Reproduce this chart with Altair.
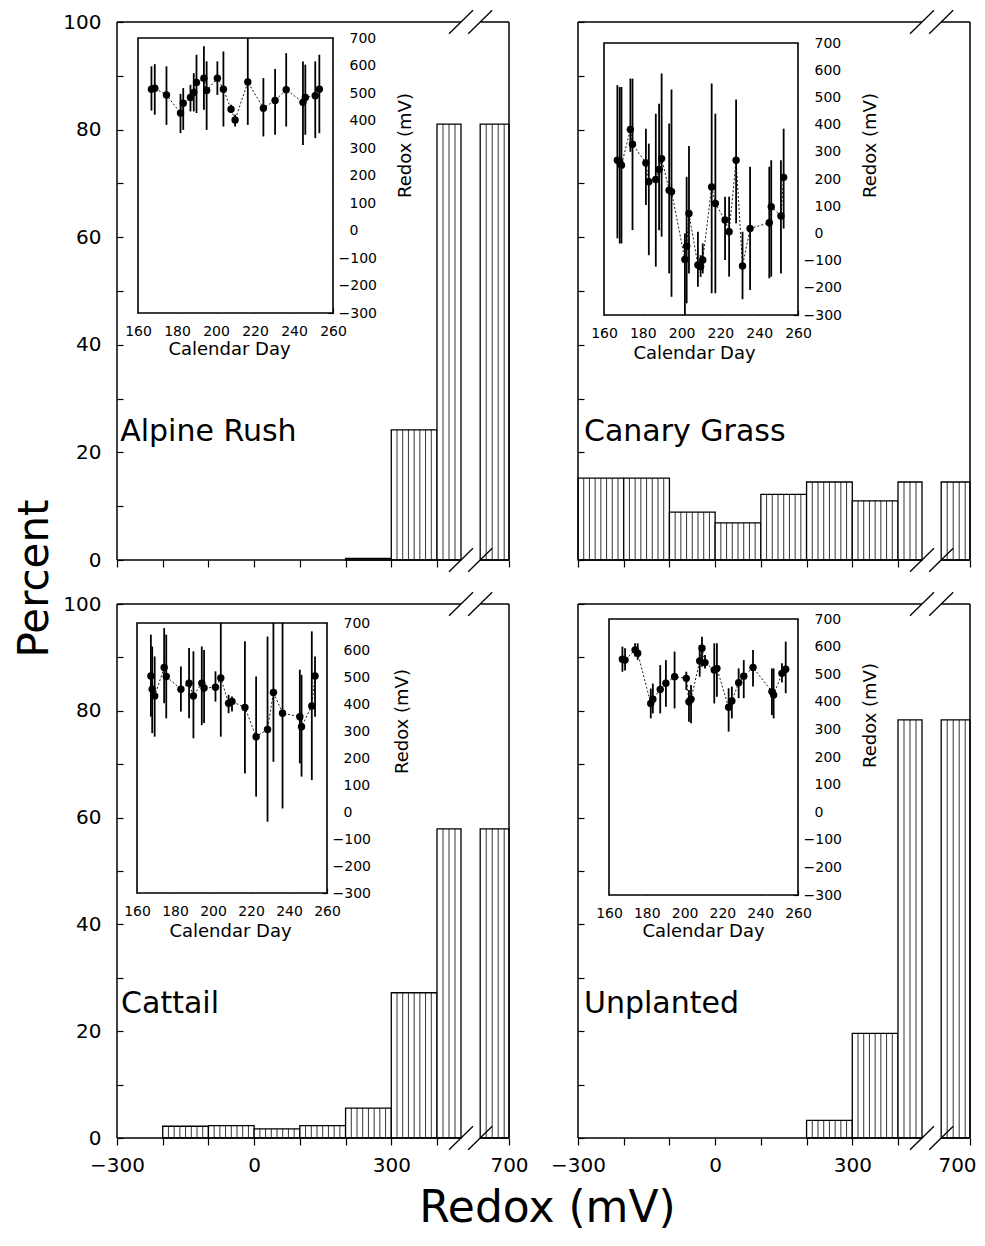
import altair as alt
import pandas as pd
import numpy as np

# ---------------- data ----------------
bin_lo = [-300, -200, -100, 0, 100, 200, 300, 400]
bin_hi = [-200, -100, 0, 100, 200, 300, 400, 700]

alpine_pct = [0, 0, 0, 0, 0, 0.3, 24.2, 81.0]
canary_pct = [15.2, 15.2, 8.9, 6.9, 12.2, 14.5, 11.0, 14.5]
cattail_pct = [0, 2.2, 2.3, 1.7, 2.3, 5.6, 27.2, 57.9]
unplanted_pct = [0, 0, 0, 0, 0, 3.3, 19.6, 78.3]

x_ticks = [-300, -200, -100, 0, 100, 200, 300, 400, 700]
x_labelled = [-300, 0, 300, 700]
y_ticks = [0, 10, 20, 30, 40, 50, 60, 70, 80, 90, 100]
day_ticks = [160, 180, 200, 220, 240, 260]
redox_ticks = [-300, -200, -100, 0, 100, 200, 300, 400, 500, 600, 700]

alpine_day = [166.9, 168.6, 174.6, 181.8, 183.2, 186.9, 188.6, 190.0, 193.8, 195.2, 200.7, 203.8,
              207.7, 209.8, 216.3, 224.3, 230.3, 236.0, 244.6, 245.8, 250.9, 253.0]
alpine_mean = [514, 517, 493, 427, 463, 484, 502, 538, 554, 509, 554, 514, 441, 402, 540, 445, 473,
               512, 466, 484, 490, 514]
alpine_low = [436, 421, 384, 354, 366, 433, 433, 427, 439, 366, 493, 378, 427, 378, 384, 342, 348,
              378, 311, 348, 336, 354]
alpine_high = [597, 605, 597, 497, 518, 530, 572, 639, 670, 615, 615, 651, 457, 421, 700, 554, 587,
               645, 615, 603, 615, 639]

canary_day = [166.9, 168.1, 169.0, 173.6, 174.7, 181.6, 183.1, 186.7, 188.4, 189.7, 193.6, 194.8,
              201.7, 202.6, 203.8, 208.4, 209.8, 210.9, 215.5, 217.4, 222.4, 224.5, 228.1, 231.4,
              235.3, 245.2, 246.2, 251.2, 252.6]
canary_mean = [269, 263, 251, 382, 328, 259, 190, 198, 235, 275, 159, 153, -96, -47, 73, -116, -122,
               -98, 171, 110, 49, 6, 269, -120, 18, 39, 98, 64, 206]
canary_low = [-18, -37, -37, 300, 12, 104, -80, -122, 12, -12, -147, -233, -300, -257, -147, -196,
              -160, -147, -220, -220, -98, -159, 37, -242, -208, -165, -159, -147, 18]
canary_high = [545, 538, 538, 569, 569, 385, 330, 440, 477, 588, 404, 529, 0, 208, 321, 6, -80, -37,
               551, 440, 135, 135, 492, 6, 245, 245, 269, 269, 385]

cattail_day = [167.3, 168.0, 169.3, 174.3, 175.4, 183.1, 187.4, 189.7, 194.1, 195.3, 201.3, 204.1,
               208.2, 210.0, 216.8, 222.7, 228.7, 231.8, 236.6, 245.7, 246.6, 252.0, 253.7]
cattail_mean = [504, 455, 430, 535, 502, 455, 477, 430, 477, 459, 462, 496, 403, 409, 387, 279, 306,
                443, 366, 353, 316, 393, 504]
cattail_low = [353, 292, 279, 403, 347, 372, 347, 273, 322, 330, 409, 279, 366, 372, 143, 57, -36,
               186, 13, 180, 131, 118, 353]
cattail_high = [657, 613, 576, 681, 657, 539, 607, 595, 613, 600, 521, 700, 434, 428, 632, 502, 650,
                700, 700, 527, 508, 669, 576]

unpl_day = [167.1, 168.5, 173.8, 175.2, 182.1, 183.2, 187.1, 190.1, 194.7, 200.9, 202.3, 203.4,
            208.0, 209.2, 210.8, 215.7, 217.1, 223.3, 225.0, 228.6, 231.3, 236.2, 246.2, 247.1,
            251.5, 253.5]
unpl_mean = [554, 551, 588, 576, 394, 409, 445, 467, 491, 485, 400, 409, 548, 594, 542, 515, 521,
             380, 403, 469, 493, 524, 437, 425, 503, 518]
unpl_low = [509, 513, 564, 552, 340, 358, 358, 382, 376, 443, 328, 322, 491, 527, 521, 394, 418,
            292, 340, 413, 413, 455, 352, 340, 470, 431]
unpl_high = [600, 594, 612, 612, 448, 466, 533, 551, 582, 509, 443, 461, 606, 636, 570, 612, 612,
             449, 455, 521, 551, 588, 521, 521, 540, 618]

# ---------------- layout constants ----------------
W, H = 853, 1116
FONT = "DejaVu Sans"
BREAK_LO, BREAK_HI = 500, 580


def panel(name, pct, day, mean, low, high, g):
    x0, ytop, ybot = g["x0"], g["ytop"], g["ybot"]
    xs = alt.Scale(domain=[-300, 400, 700], range=[x0, x0 + 320, x0 + 392], nice=False, zero=False)
    ys = alt.Scale(domain=[0, 100], range=[ybot, ytop], nice=False, zero=False)

    rows, hatch = [], []
    for lo, hi, p in zip(bin_lo, bin_hi, pct):
        if p <= 0:
            continue
        if hi > BREAK_LO:
            segs = [(lo, BREAK_LO, 25.0), (BREAK_HI, hi, 25.0)]
        else:
            segs = [(lo, hi, 12.5)]
        for a, b, step in segs:
            rows.append({"lo": a, "hi": b, "pct": p, "base": 0})
            for hx in np.arange(a + step, b - 1e-6, step):
                hatch.append({"hx": float(hx), "pct": p, "base": 0})

    xlab_expr = " || ".join(f"datum.value == {v}" for v in x_labelled)
    xaxis_kw = dict(orient="bottom", offset=ybot - H, values=x_ticks, tickSize=7, domain=False,
                    labelFontSize=20, labelPadding=10, labels=g["xlabels"],
                    labelExpr=f"({xlab_expr}) ? datum.label : ''")
    if g.get("last_shift"):
        xaxis_kw["labelOffset"] = {"condition": {"test": "datum.value == 700", "value": g["last_shift"]},
                                   "value": 0}
    if g.get("xtitle"):
        xaxis_kw.update(title="Redox (mV)", titleFontSize=44, titleX=430, titleY=70,
                        titleAlign="center", titleBaseline="middle")
    else:
        xaxis_kw.update(title=None)
    yaxis_kw = dict(orient="left", offset=-(x0 + 6), values=y_ticks, tickSize=6, domain=False,
                    labelFontSize=20, labelPadding=16, labels=g["ylabels"],
                    labelExpr="datum.value % 20 == 0 ? datum.label : ''")
    if g.get("ytitle"):
        yaxis_kw.update(title="Percent", titleFontSize=42, titleX=-89, titleY=556, titleAngle=270,
                        titleAlign="center", titleBaseline="middle")
    else:
        yaxis_kw.update(title=None)

    bars = alt.Chart(pd.DataFrame(rows)).mark_rect(fill="white", stroke="black", strokeWidth=1.3).encode(
        x=alt.X("lo:Q", scale=xs, axis=alt.Axis(**xaxis_kw)),
        x2="hi:Q",
        y=alt.Y("pct:Q", scale=ys, axis=alt.Axis(**yaxis_kw)),
        y2="base:Q",
    )
    hatch_c = alt.Chart(pd.DataFrame(hatch)).mark_rule(color="black", strokeWidth=0.8).encode(
        x=alt.X("hx:Q", scale=xs, axis=None),
        y=alt.Y("base:Q", scale=ys, axis=None),
        y2="pct:Q",
    )
    frame = pd.DataFrame({
        "fx": [-300, 700, -300, BREAK_HI, -300, BREAK_HI],
        "fx2": [-300, 700, BREAK_LO, 700, BREAK_LO, 700],
        "fy": [0, 0, 100, 100, 0, 0],
        "fy2": [100, 100, 100, 100, 0, 0],
    })
    frame_c = alt.Chart(frame).mark_rule(color="black", strokeWidth=1.5).encode(
        x=alt.X("fx:Q", scale=xs, axis=None), x2="fx2:Q",
        y=alt.Y("fy:Q", scale=ys, axis=None), y2="fy2:Q",
    )
    slash = pd.DataFrame({
        "sx": [BREAK_LO - 50, BREAK_HI - 50, BREAK_LO - 50, BREAK_HI - 50],
        "sx2": [BREAK_LO + 50, BREAK_HI + 50, BREAK_LO + 50, BREAK_HI + 50],
        "sy": [-2.2, -2.2, 97.8, 97.8],
        "sy2": [2.2, 2.2, 102.2, 102.2],
    })
    slash_c = alt.Chart(slash).mark_rule(color="black", strokeWidth=1.3).encode(
        x=alt.X("sx:Q", scale=xs, axis=None), x2="sx2:Q",
        y=alt.Y("sy:Q", scale=ys, axis=None), y2="sy2:Q",
    )
    label_c = alt.Chart(pd.DataFrame({"lx": [g["lx"]], "ly": [g["ly"]], "t": [name]})).mark_text(
        align="left", baseline="alphabetic", fontSize=30, font=FONT, color="black"
    ).encode(
        x=alt.X("lx:Q", scale=xs, axis=None),
        y=alt.Y("ly:Q", scale=ys, axis=None),
        text="t:N",
    )

    # ---- inset ----
    ixs = alt.Scale(domain=[160, 260], range=[g["ix0"], g["ix1"]], nice=False, zero=False)
    iys = alt.Scale(domain=[-300, 700], range=[g["iy1"], g["iy0"]], nice=False, zero=False)
    box = pd.DataFrame({"d0": [160], "d1": [260], "r0": [-300], "r1": [700]})
    box_c = alt.Chart(box).mark_rect(fill="white", stroke="black", strokeWidth=1.6).encode(
        x=alt.X("d0:Q", scale=ixs, axis=None), x2="d1:Q",
        y=alt.Y("r0:Q", scale=iys, axis=None), y2="r1:Q",
    )
    ins = pd.DataFrame({"day": day, "mean": mean, "low": low, "high": high})
    line_c = alt.Chart(ins).mark_line(color="black", strokeWidth=0.9, strokeDash=[2, 2]).encode(
        x=alt.X("day:Q", scale=ixs, axis=None),
        y=alt.Y("mean:Q", scale=iys, axis=None),
        order="day:Q",
    )
    err_c = alt.Chart(ins).mark_rule(color="black", strokeWidth=1.8).encode(
        x=alt.X("day:Q", scale=ixs, axis=None),
        y=alt.Y("low:Q", scale=iys, axis=None), y2="high:Q",
    )
    ixaxis = alt.Axis(orient="bottom", offset=g["iy1"] - 5 - H, values=day_ticks, tickSize=5,
                      domain=False, labelFontSize=14, labelPadding=11,
                      title="Calendar Day", titleFontSize=18, titleX=g["ixt"][0],
                      titleY=g["ixt"][1] - (g["iy1"] - 5), titleAlign="center", titleBaseline="middle")
    iyaxis = alt.Axis(orient="right", offset=g["ix1"] - 5 - W, values=redox_ticks, tickSize=5,
                      domain=False, labelFontSize=14, labelAlign="left",
                      labelPadding={"condition": {"test": "datum.value < 0", "value": 5}, "value": 16},
                      title="Redox (mV)", titleFontSize=18, titleAngle=270,
                      titleX=g["iyt"][0] - (g["ix1"] - 5), titleY=g["iyt"][1],
                      titleAlign="center", titleBaseline="middle")
    pts_c = alt.Chart(ins).mark_circle(color="black", size=55, opacity=1).encode(
        x=alt.X("day:Q", scale=ixs, axis=ixaxis),
        y=alt.Y("mean:Q", scale=iys, axis=iyaxis),
    )
    return [bars, hatch_c, frame_c, slash_c, label_c, box_c, line_c, err_c, pts_c]


geo_tl = dict(x0=0, ytop=0, ybot=538, xlabels=False, ylabels=True, ytitle=True, lx=-293, ly=22.1,
              ix0=21, ix1=216, iy0=16, iy1=291, ixt=(112, 327), iyt=(288, 123))
geo_tr = dict(x0=461, ytop=0, ybot=538, xlabels=False, ylabels=False, lx=-287, ly=22.1,
              ix0=487, ix1=681, iy0=21, iy1=293, ixt=(577, 331), iyt=(753, 123))
geo_bl = dict(x0=0, ytop=582, ybot=1116, xlabels=True, ylabels=True, xtitle=True, lx=-291, ly=23.4,
              ix0=20, ix1=210, iy0=601, iy1=871, ixt=(113, 909), iyt=(285, 699))
geo_br = dict(x0=461, ytop=582, ybot=1116, xlabels=True, ylabels=False, lx=-287, ly=23.4,
              ix0=492, ix1=681, iy0=597, iy1=873, ixt=(586, 909), iyt=(753, 693), last_shift=-13)

layers = []
layers += panel("Alpine Rush", alpine_pct, alpine_day, alpine_mean, alpine_low, alpine_high, geo_tl)
layers += panel("Canary Grass", canary_pct, canary_day, canary_mean, canary_low, canary_high, geo_tr)
layers += panel("Cattail", cattail_pct, cattail_day, cattail_mean, cattail_low, cattail_high, geo_bl)
layers += panel("Unplanted", unplanted_pct, unpl_day, unpl_mean, unpl_low, unpl_high, geo_br)

chart = alt.layer(*layers).resolve_scale(
    x="independent", y="independent"
).resolve_axis(
    x="independent", y="independent"
).properties(
    width=W, height=H,
    autosize=alt.AutoSizeParams(type="none"),
    padding={"left": 109, "top": 14, "right": 6, "bottom": 98},
).configure_axis(
    grid=False, labelFont=FONT, titleFont=FONT, labelColor="black", titleColor="black",
    tickColor="black", tickWidth=1.2, labelFlush=False, labelOverlap=False,
    titleFontWeight="normal",
).configure_view(strokeWidth=0)

chart.save("out.html", embed_options={"renderer": "svg", "actions": False})
